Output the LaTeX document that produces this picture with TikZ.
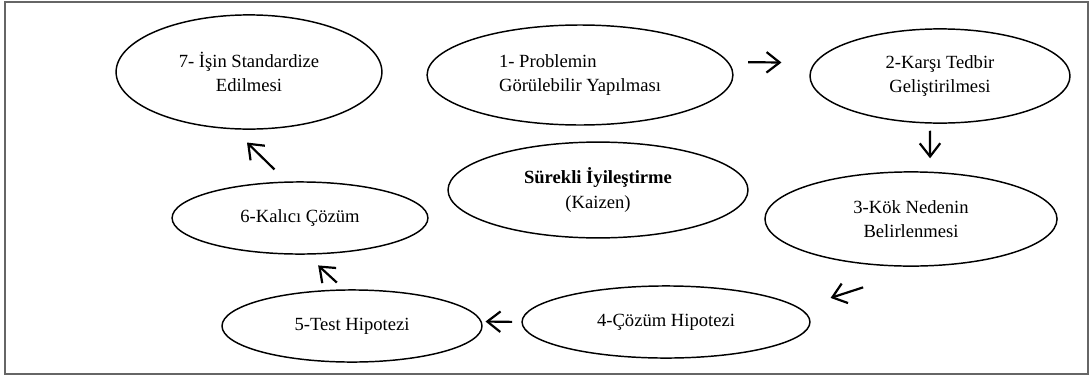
\documentclass[tikz,border=0pt]{standalone}
\usepackage{fontspec}
\setmainfont{Liberation Serif}
\usetikzlibrary{shapes.geometric,arrows.meta}

\begin{document}
\begin{tikzpicture}[x=0.024cm,y=-0.024cm,
    asama/.style={draw, ellipse, line width=1pt, inner sep=0pt, align=center,
      font=\fontsize{12.7}{16.5}\selectfont},
    ok/.style={-{Straight Barb[length=9pt,width=14pt]}, line width=1.5pt}]
\useasboundingbox (0,0) rectangle (1090,376);
\draw[line width=1pt, black!60] (5,2) rectangle (1088,374);

\node[asama, minimum width=6.38cm, minimum height=2.74cm] (standart) at (249,72) {7- İşin Standardize\\Edilmesi};
\node[asama, align=left, minimum width=7.34cm, minimum height=2.4cm] (gorunur) at (580,75) {1- Problemin\\Görülebilir Yapılması};
\node[asama, minimum width=6.24cm, minimum height=2.26cm] (tedbir) at (940,76) {2-Karşı Tedbir\\Geliştirilmesi};
\node[asama, minimum width=7.01cm, minimum height=2.26cm] (kok) at (911,219) {3-Kök Nedenin\\Belirlenmesi};
\node[asama, minimum width=7.2cm, minimum height=2.3cm] (kaizen) at (598,190) {\textbf{Sürekli İyileştirme}\\(Kaizen)};
\node[asama, minimum width=6.91cm, minimum height=1.73cm] (cozum) at (666,322) {4-Çözüm Hipotezi};
\node[asama, minimum width=6.24cm, minimum height=1.73cm] (test) at (352,326) {5-Test Hipotezi};
\node[asama, minimum width=6.14cm, minimum height=1.73cm] (kalici) at (300,218) {6-Kalıcı Çözüm};

\draw[ok, shorten <=0.47cm, shorten >=0.79cm] (gorunur.5) -- (tedbir.174);
\draw[ok, shorten <=0.17cm, shorten >=0.32cm] (tedbir.258) -- (kok.68);
\draw[ok, shorten <=1.62cm, shorten >=0.78cm] (kok.289) -- (cozum.6);
\draw[ok, shorten <=0.22cm, shorten >=0.09cm] (cozum.180) -- (test.2);
\draw[ok, shorten <=0.24cm, shorten >=0.38cm] (test.102) -- (kalici.280);
\draw[ok, shorten <=0.41cm, shorten >=0.45cm] (kalici.110) -- (standart.255);
\end{tikzpicture}
\end{document}
